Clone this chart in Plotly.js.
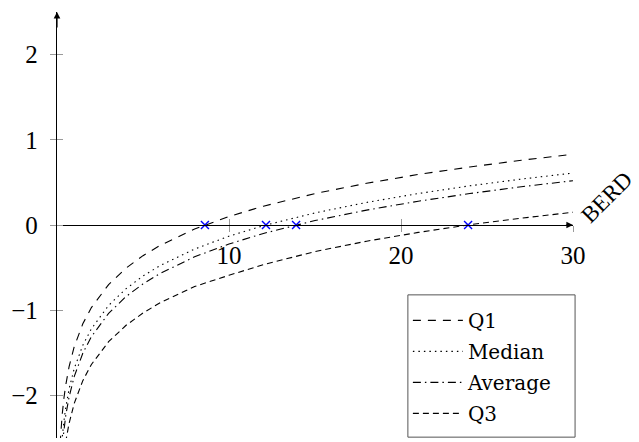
<!DOCTYPE html>
<html>
<head>
<meta charset="utf-8">
<script src="https://cdn.plot.ly/plotly-3.0.1.min.js"></script>
<style>html,body{margin:0;padding:0;background:#fff;}#chart{width:639px;height:442px;}</style>
</head>
<body>
<div id="chart"></div>
<script>
// Values
var seriesNames = ["Q1", "Median", "Average", "Q3"];

var q1X = [0.18, 0.2, 0.3, 0.4, 0.5, 0.7, 1, 1.5, 2, 3, 4, 5, 6, 8, 10, 12, 15, 18, 21, 24, 27, 30];
var q1Y = [-2.567, -2.497, -2.228, -2.037, -1.889, -1.666, -1.429, -1.160, -0.969, -0.699, -0.508, -0.360, -0.239, -0.048, 0.100, 0.221, 0.369, 0.490, 0.593, 0.681, 0.760, 0.830];

var medX = [0.28, 0.3, 0.4, 0.5, 0.7, 1, 1.5, 2, 3, 4, 5, 6, 8, 10, 12, 15, 18, 21, 24, 27, 30];
var medY = [-2.545, -2.498, -2.304, -2.154, -1.926, -1.686, -1.412, -1.218, -0.944, -0.750, -0.599, -0.476, -0.282, -0.131, -0.008, 0.142, 0.265, 0.369, 0.460, 0.539, 0.610];

var avgX = [0.3, 0.4, 0.5, 0.7, 1, 1.5, 2, 3, 4, 5, 6, 8, 10, 12, 15, 18, 21, 24, 27, 30];
var avgY = [-2.593, -2.399, -2.248, -2.020, -1.779, -1.505, -1.311, -1.037, -0.842, -0.691, -0.568, -0.373, -0.223, -0.099, 0.052, 0.175, 0.279, 0.369, 0.449, 0.520];

var q3X = [0.5, 0.7, 1, 1.5, 2, 3, 4, 5, 6, 8, 10, 12, 15, 18, 21, 24, 27, 30];
var q3Y = [-2.552, -2.330, -2.095, -1.827, -1.637, -1.370, -1.180, -1.033, -0.912, -0.722, -0.590, -0.465, -0.312, -0.190, -0.087, 0.003, 0.080, 0.150];

var rootX = [8.6, 12.15, 13.9, 23.9];
var rootY = [0, 0, 0, 0];

var xTicks = [10, 20, 30];
var yTicks = [-2, -1, 0, 1, 2];
var xLabel = "BERD";

var lineColor = "#000";
function lineTrace(name, x, y, dash) {
  return {
    type: "scatter", mode: "lines", name: name, x: x, y: y,
    legendgroup: name,
    line: {color: lineColor, width: 1.1, dash: dash},
    hoverinfo: "skip"
  };
}

var data = [
  lineTrace(seriesNames[0], q1X, q1Y, "8px,7px"),
  lineTrace(seriesNames[1], medX, medY, "1.5px,4px"),
  lineTrace(seriesNames[2], avgX, avgY, "8px,4px,1.5px,4px"),
  lineTrace(seriesNames[3], q3X, q3Y, "6px,4px"),
  {
    type: "scatter", mode: "markers", x: rootX, y: rootY, showlegend: false,
    marker: {symbol: "x-thin", size: 8, line: {color: "#0000ff", width: 1.4}},
    hoverinfo: "skip", cliponaxis: false
  },
  {type: "scatter", x: [null], y: [null], xaxis: "x2", yaxis: "y2", showlegend: false, hoverinfo: "skip"}
];

var tickFont = {family: "'Liberation Serif', serif", size: 25, color: "#000"};

var layout = {
  width: 639, height: 442,
  margin: {l: 57, r: 66, t: 12, b: 4, autoexpand: false},
  paper_bgcolor: "#fff", plot_bgcolor: "#fff",
  showlegend: true,
  xaxis: {
    range: [0, 30], anchor: "free", position: 0.5,
    showgrid: false, zeroline: false,
    showline: true, linecolor: "#000", linewidth: 1.2,
    tickvals: xTicks, ticktext: xTicks.map(String),
    ticks: "outside", ticklen: 6, tickcolor: "#9a9a9a", tickwidth: 1,
    tickfont: tickFont, ticklabelstandoff: 2
  },
  xaxis2: {
    range: [0, 30], overlaying: "x", anchor: "free", position: 0.5,
    showgrid: false, zeroline: false, showline: false,
    tickvals: xTicks, ticks: "inside", ticklen: 6, tickcolor: "#9a9a9a", tickwidth: 1,
    showticklabels: false
  },
  yaxis: {
    range: [-2.5, 2.5],
    showgrid: false, zeroline: false,
    showline: true, linecolor: "#000", linewidth: 1.2,
    tickvals: yTicks, ticktext: yTicks.map(function (v) { return v < 0 ? "\u2212" + Math.abs(v) : String(v); }),
    ticks: "outside", ticklen: 6, tickcolor: "#9a9a9a", tickwidth: 1,
    tickfont: tickFont, ticklabelstandoff: 7
  },
  yaxis2: {
    range: [-2.5, 2.5], overlaying: "y", anchor: "x",
    showgrid: false, zeroline: false, showline: false,
    tickvals: yTicks, ticks: "inside", ticklen: 6, tickcolor: "#9a9a9a", tickwidth: 1,
    showticklabels: false
  },
  legend: {
    x: 0.68, y: 0.012, xanchor: "left", yanchor: "bottom",
    bgcolor: "rgba(0,0,0,0)", borderwidth: 0,
    font: {family: "'DejaVu Serif', serif", size: 20, color: "#000"},
    traceorder: "grouped", tracegroupgap: 2, itemwidth: 50
  },
  shapes: [
    {type: "rect", xref: "paper", yref: "paper", x0: 0.680, x1: 1.004, y0: 0.002, y1: 0.336,
     line: {color: "#555", width: 1}, fillcolor: "#fff", layer: "above"}
  ],
  annotations: [
    {x: 30, y: 0, ax: 29.5, ay: 0, xref: "x", yref: "y", axref: "x", ayref: "y",
     showarrow: true, arrowhead: 2, arrowsize: 1.1, arrowwidth: 1.2, arrowcolor: "#000", text: "", standoff: 0},
    {x: 0, y: 2.5, ax: 0, ay: 2.3, xref: "x", yref: "y", axref: "x", ayref: "y",
     showarrow: true, arrowhead: 2, arrowsize: 1.1, arrowwidth: 1.2, arrowcolor: "#000", text: "", standoff: 0},
    {x: 1.065, y: 0.565, xref: "paper", yref: "paper", xanchor: "center", yanchor: "middle",
     showarrow: false, text: xLabel,
     textangle: -45, font: {family: "'Liberation Serif', serif", size: 23, color: "#000"}}
  ]
};

Plotly.newPlot("chart", data, layout, {displayModeBar: false, staticPlot: true});
</script>
</body>
</html>
